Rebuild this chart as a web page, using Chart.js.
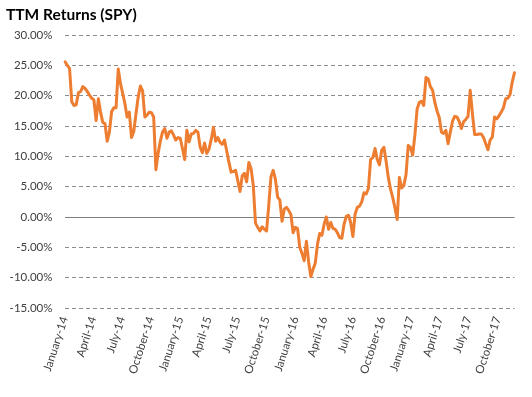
<!DOCTYPE html>
<html>
<head>
<meta charset="utf-8">
<script src="https://cdn.jsdelivr.net/npm/chart.js@4.4.0/dist/chart.umd.min.js"></script>
<style>
  html, body { margin: 0; padding: 0; background: #fff; }
</style>
</head>
<body>
<canvas id="ttmChart" width="532" height="397"></canvas>
<script>
const chartTitle = "TTM Returns (SPY)";

// axis starts on the first tick (January-14), first weekly close a couple of days later
const axisStart = "2014-01-01";
const firstClose = "2014-01-03";

const tickLabels = [
  "January-14", "April-14", "July-14", "October-14",
  "January-15", "April-15", "July-15", "October-15",
  "January-16", "April-16", "July-16", "October-16",
  "January-17", "April-17", "July-17", "October-17"
];

// weekly trailing twelve month return, %
const ttmReturns = [
  25.6, 25.0, 24.5, 19.0, 18.4, 18.5, 20.5, 20.7, 21.5, 21.2,
  20.7, 20.1, 19.6, 19.3, 15.9, 19.5, 17.3, 15.6, 15.4, 12.5,
  14.0, 17.4, 18.0, 18.0, 24.4, 22.0, 20.4, 18.7, 16.5, 17.3,
  13.1, 14.1, 17.0, 19.8, 21.6, 20.8, 16.5, 16.8, 17.3, 17.2,
  16.5, 7.8, 10.5, 12.5, 14.0, 14.6, 13.0, 14.0, 14.2, 13.5,
  12.7, 13.1, 13.0, 11.3, 9.5, 14.3, 12.4, 13.7, 13.8, 14.3,
  14.0, 11.5, 10.6, 12.2, 10.5, 11.2, 12.8, 14.8, 12.5, 13.1,
  12.3, 12.0, 12.7, 10.9, 9.0, 7.4, 7.5, 7.7, 6.0, 4.2,
  6.8, 7.2, 5.8, 9.0, 8.0, 5.2, -1.0, -1.7, -2.3, -1.6,
  -2.0, -2.3, 2.0, 6.7, 7.7, 6.2, 3.3, 2.8, -0.7, 1.3,
  1.6, 1.1, 0.4, -2.6, -1.7, -1.9, -5.0, -6.0, -7.2, -4.0,
  -7.4, -9.8, -8.6, -7.6, -4.5, -2.7, -3.0, -1.2, 0.0, -2.0,
  -0.9, -1.9, -2.0, -2.6, -3.4, -3.5, -1.2, 0.1, 0.3, -0.9,
  -3.2, 0.5, 1.6, 1.8, 2.5, 4.0, 3.8, 4.7, 9.5, 9.8,
  11.3, 9.5, 8.6, 11.0, 11.5, 9.2, 6.5, 4.6, 3.2, 1.5,
  -0.4, 6.5, 4.8, 5.2, 7.0, 11.8, 11.5, 10.2, 13.5, 17.8,
  18.9, 19.1, 18.4, 23.0, 22.8, 21.5, 20.9, 18.9, 17.5, 16.4,
  14.0, 13.8, 14.3, 12.1, 14.0, 15.8, 16.6, 16.5, 15.8, 14.6,
  15.7, 16.1, 16.6, 20.9, 17.0, 13.6, 13.6, 13.7, 13.7, 13.1,
  12.1, 11.1, 12.7, 13.2, 16.5, 16.2, 16.7, 17.3, 18.0, 19.5,
  19.6, 20.2, 22.3, 23.8
];

const yMin = -15;
const yMax = 30;
const yStep = 5;

const monthNames = ["January", "February", "March", "April", "May", "June",
  "July", "August", "September", "October", "November", "December"];
const WEEK = 7 * 24 * 3600 * 1000;

function toUTC(iso) {
  const [y, m, d] = iso.split("-").map(Number);
  return Date.UTC(y, m - 1, d);
}

// "April-14" -> weeks since axis start
function labelWeek(label) {
  const [month, yy] = label.split("-");
  const t = Date.UTC(2000 + Number(yy), monthNames.indexOf(month), 1);
  return (t - toUTC(axisStart)) / WEEK;
}

const offset = (toUTC(firstClose) - toUTC(axisStart)) / WEEK;
const points = ttmReturns.map((v, i) => ({ x: offset + i, y: v }));
const tickWeeks = tickLabels.map(labelWeek);

const FONT = "Lato, 'Liberation Sans', sans-serif";

new Chart(document.getElementById("ttmChart").getContext("2d"), {
  type: "line",
  data: {
    datasets: [
      {
        label: "SPY",
        data: points,
        borderColor: "#ED7D31",
        borderWidth: 3,
        pointRadius: 0,
        tension: 0,
        borderJoinStyle: "round",
        borderCapStyle: "round",
        clip: false,
      },
    ],
  },
  options: {
    responsive: false,
    animation: false,
    devicePixelRatio: 1,
    layout: { padding: { left: 6, right: 17.5, top: 0, bottom: 0 } },
    plugins: {
      legend: { display: false },
      tooltip: { enabled: false },
      title: {
        display: true,
        text: chartTitle,
        align: "start",
        color: "#000",
        font: { family: FONT, size: 15.5, weight: "bold" },
        padding: { top: 6, bottom: 10.5 },
      },
    },
    scales: {
      x: {
        type: "linear",
        min: 0,
        max: points[points.length - 1].x,
        afterBuildTicks: (scale) => {
          scale.ticks = tickWeeks.map((w) => ({ value: w }));
        },
        afterFit: (scale) => {
          scale.height = 89;
        },
        grid: { display: false, drawTicks: false },
        border: { display: false },
        ticks: {
          autoSkip: false,
          minRotation: 72,
          maxRotation: 72,
          padding: 7,
          color: "#404040",
          font: { family: FONT, size: 11.5 },
          callback: (value, index) => tickLabels[index],
        },
      },
      y: {
        min: yMin,
        max: yMax,
        afterFit: (scale) => {
          scale.width = 58.5;
        },
        grid: {
          drawTicks: false,
          lineWidth: 1,
          color: (ctx) => (ctx.tick && ctx.tick.value === 0 ? "#7f7f7f" : "#8c8c8c"),
        },
        border: {
          display: false,
          dash: (ctx) => (ctx.tick && ctx.tick.value === 0 ? [] : [4, 3]),
        },
        ticks: {
          stepSize: yStep,
          padding: 12,
          color: "#404040",
          font: { family: FONT, size: 11.5 },
          callback: (value) => value.toFixed(2) + "%",
        },
      },
    },
  },
});
</script>
</body>
</html>
